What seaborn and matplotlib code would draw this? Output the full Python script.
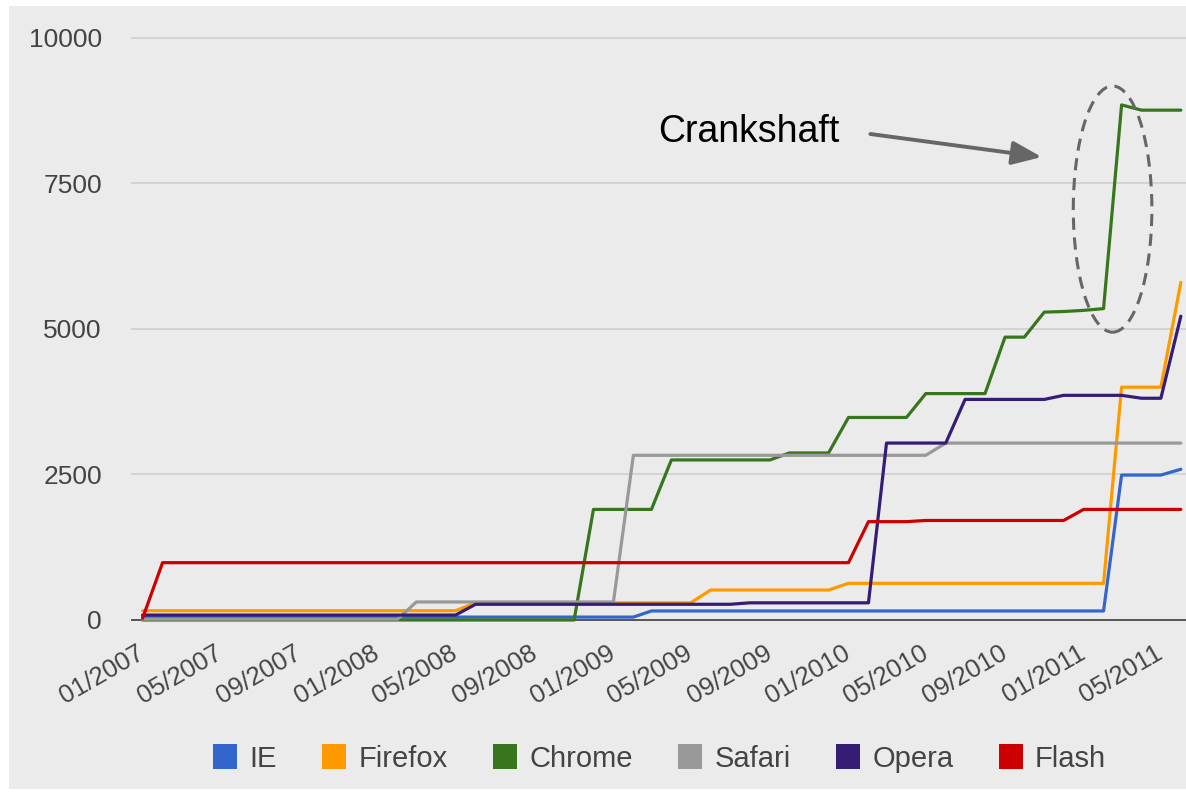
import numpy as np
import pandas as pd
import matplotlib
matplotlib.use("Agg")
import matplotlib.pyplot as plt
import matplotlib.dates as mdates
from matplotlib.patches import Ellipse, Patch, Rectangle
import seaborn as sns

# --- data (one value per month from 01/2007) ---
months = pd.date_range("2007-01-01", periods=54, freq="MS")

ie = [50] * 26 + [155] * 24 + [2490] * 3 + [2590]
firefox = [160] * 17 + [295] * 12 + [515] * 7 + [630] * 14 + [4000] * 3 + [5800]
chrome = ([0] * 23 + [1900] * 4 + [2750] * 6 + [2870] * 3 + [3480] * 4 + [3890] * 4
          + [4860] * 2 + [5290, 5300, 5320, 5350, 8850] + [8760] * 3)
safari = [15] * 14 + [310] * 11 + [2830] * 16 + [3040] * 13
opera = [85] * 17 + [270] * 14 + [295] * 7 + [3040] * 4 + [3790] * 5 + [3860] * 4 + [3810] * 2 + [5220]
flash = [30] + [985] * 36 + [1690] * 3 + [1710] * 8 + [1900] * 6

browsers = ["IE", "Firefox", "Chrome", "Safari", "Opera", "Flash"]
series = [ie, firefox, chrome, safari, opera, flash]
colors = ["#3366cc", "#ff9900", "#38761d", "#999999", "#351c75", "#cc0000"]
yticks = [0, 2500, 5000, 7500, 10000]

df = pd.concat(
    [pd.DataFrame({"date": months, "score": vals, "browser": name})
     for name, vals in zip(browsers, series)],
    ignore_index=True,
)

# --- style ---
sns.set_theme(style="white")
plt.rcParams["font.family"] = ["Liberation Sans", "DejaVu Sans"]
BG = "#ebebeb"

fig = plt.figure(figsize=(11.86, 7.95), dpi=100)
fig.patch.set_facecolor("white")
fig.patches.append(Rectangle((9 / 1186, 6 / 795), 1 - 9 / 1186, 1 - 12 / 795,
                             transform=fig.transFigure, facecolor=BG,
                             edgecolor="none", zorder=-10))

ax = fig.add_axes([131 / 1186, 170 / 795, 1055 / 1186, 605 / 795])
ax.set_facecolor(BG)

sns.lineplot(data=df, x="date", y="score", hue="browser", hue_order=browsers,
             palette=dict(zip(browsers, colors)), lw=2.3, ax=ax, legend=False,
             zorder=3)

# axes
ax.set_xlim(pd.Timestamp("2006-12-14"), pd.Timestamp("2011-06-09"))
ax.set_ylim(-86, 10309)
ax.set_yticks(yticks)
ax.set_yticklabels([str(t) for t in yticks])
for t in yticks[1:]:
    ax.axhline(t, color="#cccccc", lw=1.1, zorder=1)
ax.axhline(0, color="#555555", lw=1.4, zorder=2)
for s in ax.spines.values():
    s.set_visible(False)
ax.tick_params(axis="y", length=0, pad=21, labelsize=19, labelcolor="#444444")
ax.tick_params(axis="x", length=0, pad=19, labelsize=18.5, labelcolor="#444444")
ax.xaxis.set_major_locator(mdates.MonthLocator(bymonth=(1, 5, 9)))
ax.xaxis.set_major_formatter(mdates.DateFormatter("%m/%Y"))
for lab in ax.get_xticklabels():
    lab.set_rotation(30)
    lab.set_ha("right")
    lab.set_va("center")
    lab.set_rotation_mode("anchor")
ax.set_xlabel("")
ax.set_ylabel("")
ax.grid(False)

# annotation
ax.add_patch(Ellipse((pd.Timestamp("2011-02-15"), 7060), width=122, height=4230,
                     fill=False, edgecolor="#666666", lw=2.2, ls=(0, (4, 2.5)),
                     zorder=4))
ax.annotate("", xy=(pd.Timestamp("2010-10-28"), 7955),
            xytext=(pd.Timestamp("2010-02-04"), 8350),
            arrowprops=dict(arrowstyle="-|>,head_length=1.5,head_width=0.6",
                            color="#666666", lw=2.8, shrinkA=0, shrinkB=0))
ax.text(pd.Timestamp("2009-03-12"), 8213, "Crankshaft", fontsize=27,
        color="black", ha="left", va="baseline")

# legend
handles = [Patch(facecolor=c, edgecolor="none") for c in colors]
leg = fig.legend(handles, browsers, loc="center", bbox_to_anchor=(0.556, 0.046),
                 ncol=6, frameon=False, fontsize=21, handlelength=0.83,
                 handleheight=0.95, handletextpad=0.42, columnspacing=1.55)
for t in leg.get_texts():
    t.set_color("#444444")

fig.savefig("out.png", dpi=100, facecolor=fig.get_facecolor())
